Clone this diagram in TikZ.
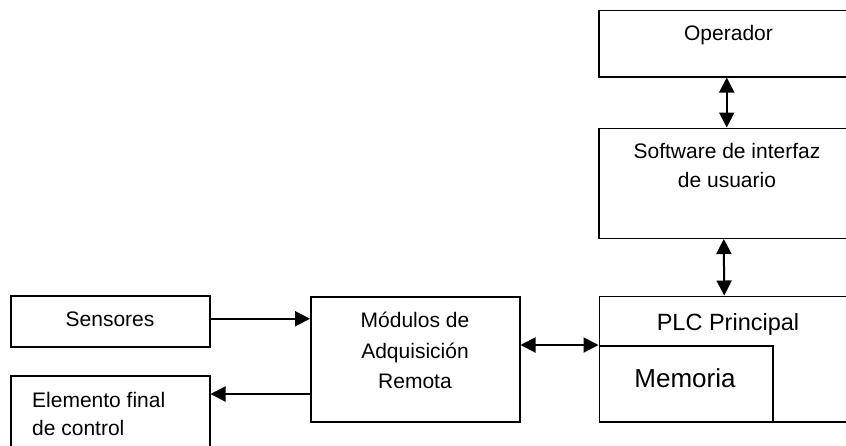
\documentclass[tikz,border=0pt]{standalone}
\usepackage{fontspec}
\setmainfont{Liberation Sans}
\usetikzlibrary{arrows.meta}
\tikzset{tri/.tip={Triangle[length=15pt,width=15pt]}}
\begin{document}
\begin{tikzpicture}[x=1pt,y=-1pt,
  box/.style={draw=black,line width=1.5pt,inner sep=0pt,anchor=north west},
  lbl/.style={inner sep=0pt,anchor=base,align=center,font=\fontsize{21}{28.5}\selectfont},
  link/.style={line width=2pt}]
\useasboundingbox (0,0) rectangle (846,445);
\clip (0,0) rectangle (846,445);
% blocks
\node[box,minimum width=258pt,minimum height=66.5pt] (op) at (598,9.5) {};
\node[box,minimum width=258pt,minimum height=110pt] (sw) at (598,127.5) {};
\node[box,minimum width=258pt,minimum height=125.5pt] (plc) at (598.5,295.5) {};
\node[box,minimum width=173.5pt,minimum height=76pt] (mem) at (598.5,345) {};
\node[box,minimum width=209pt,minimum height=125pt] (mod) at (310,296) {};
\node[box,minimum width=199pt,minimum height=51pt] (sen) at (10,295) {};
\node[box,minimum width=199pt,minimum height=90pt] (efc) at (10,375) {};
% texts (multi-line labels are placed by the baseline of their last line)
\node[lbl] (tOp) at (728.5,40.5) {Operador};
\node[lbl,font=\fontsize{21}{28.3}\selectfont] (tSw) at (727,187) {Software de interfaz\\de usuario};
\node[lbl,font=\fontsize{23.5}{28}\selectfont] (tPlc) at (728,330) {PLC Principal};
\node[lbl,font=\fontsize{26}{30}\selectfont] (tMem) at (685,387) {Memoria};
\node[lbl,font=\fontsize{21}{30.5}\selectfont] (tMod) at (415,388.5) {Módulos de\\Adquisición\\Remota};
\node[lbl] (tSen) at (110,326.5) {Sensores};
\node[lbl,align=left,anchor=base west,font=\fontsize{21}{28}\selectfont] (tEfc) at (32,435.5) {Elemento final\\de control};
% connections
\coordinate (ctl) at (310,394);
\draw[link,{tri}-{tri}] ([xshift=-1pt]op.south) -- ([xshift=-1pt]sw.north);
\draw[link,{tri}-{tri}] ([xshift=-4pt]sw.south) -- ([xshift=-4pt]plc.north);
\draw[link,{tri}-{tri}] (mod.east |- mem.north west) -- (mem.north west);
\draw[link,-{tri}] ([yshift=2.5pt]sen.east) -- ([yshift=2.5pt]sen.east -| mod.west);
\draw[link,-{tri}] (ctl) -- (ctl -| efc.east);
\end{tikzpicture}
\end{document}
